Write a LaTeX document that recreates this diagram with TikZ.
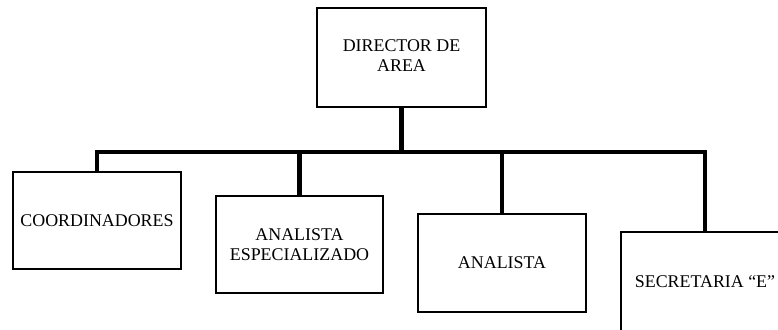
\documentclass[tikz,border=0pt]{standalone}
\usepackage{fontspec}
\setmainfont{Liberation Serif}
\begin{document}
\begin{tikzpicture}[x=1pt,y=-1pt,
  box/.style={draw,line width=2.2pt,fill=white,align=center,inner sep=0pt,
    font=\fontsize{17.9}{19.5}\selectfont},
  conn/.style={line width=4.4pt,line join=miter,line cap=butt}]
\path[use as bounding box,clip] (0,0) rectangle (778,329);
\fill[white] (0,0) rectangle (778,329);
\node[box,minimum width=169pt,minimum height=99pt] (dir) at (401.5,57.5) {DIRECTOR DE\\AREA\\[-21pt]\strut};
\node[box,minimum width=168pt,minimum height=97pt] (coord) at (97,220.5) {COORDINADORES};
\node[box,minimum width=167pt,minimum height=97pt] (aesp) at (299.5,244.5) {ANALISTA\\ESPECIALIZADO};
\node[box,minimum width=168pt,minimum height=98pt] (ana) at (502,263) {ANALISTA};
\node[box,minimum width=168pt,minimum height=100pt] (sec) at (705,282) {SECRETARIA “E”};
\coordinate (barL) at (97,152);
\draw[conn] (dir.south) -- (dir.south |- barL);
\draw[conn] (coord.north) -- (coord.north |- barL) -- (sec.north |- barL) -- (sec.north);
\draw[conn] (aesp.north) -- (aesp.north |- barL);
\draw[conn] (ana.north) -- (ana.north |- barL);
\end{tikzpicture}
\end{document}
